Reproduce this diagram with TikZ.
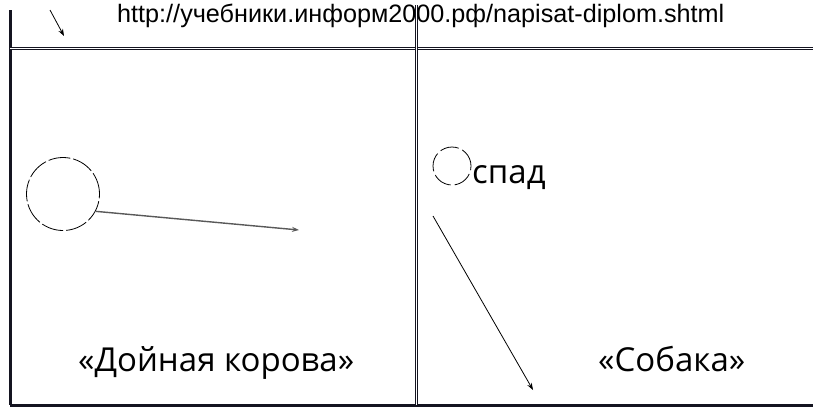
\documentclass[tikz,border=0pt]{standalone}
\usepackage{fontspec}
\setmainfont{Open Sans}
\newfontfamily\urlfont{Liberation Sans}
\usetikzlibrary{positioning,arrows.meta}
\definecolor{rule}{RGB}{20,20,32}
\tikzset{
  frame/.style={line width=3pt, rule},
  twin/.style={double, double distance=0.8pt, line width=1.1pt, draw=rule},
  state/.style={draw, circle, line width=0.8pt, dash pattern=on 22pt off 3pt, inner sep=0pt},
  label/.style={inner sep=0pt, anchor=base west, font=\fontsize{33}{38}\selectfont}
}
\begin{document}
\begin{tikzpicture}[x=1pt, y=-1pt, >={Stealth[length=7pt,width=5pt]}]
  \useasboundingbox (0,0) rectangle (813,407);
  % grid
  \draw[frame] (10,10) -- (10,405);
  \draw[frame] (10,405) -- (813,405);
  \draw[twin] (10,48) -- (813,48);
  \draw[twin] (416,5) -- (416,405);

  \node[inner sep=0pt, anchor=base west, font=\urlfont\fontsize{25.2}{28}\selectfont] (url) at (117,22) {http://учебники.информ2000.рф/napisat-diplom.shtml};
  \coordinate (top1) at (50,10);
  \coordinate (top2) at (64,36);
  \draw[->, line width=0.8pt] (top1) -- (top2);

  % left cell
  \node[state, minimum size=73pt] (cow) at (63,194) {};
  \coordinate (cowend) at (299,230);
  \draw[->, line width=1.4pt, black!65] (cow.-28) -- (cowend);
  \node[label] (cowlabel) at (78,371) {«Дойная корова»};

  % right cell
  \node[state, minimum size=38pt, dash pattern=on 19pt off 4pt] (dog) at (452,166) {};
  \node[label] (spad) at (472,183) {спад};
  \coordinate (dogstart) at (433,216);
  \coordinate (dogend) at (533,390);
  \draw[->, line width=0.8pt] (dogstart) -- (dogend);
  \node[label] (doglabel) at (598,371) {«Собака»};
\end{tikzpicture}
\end{document}
